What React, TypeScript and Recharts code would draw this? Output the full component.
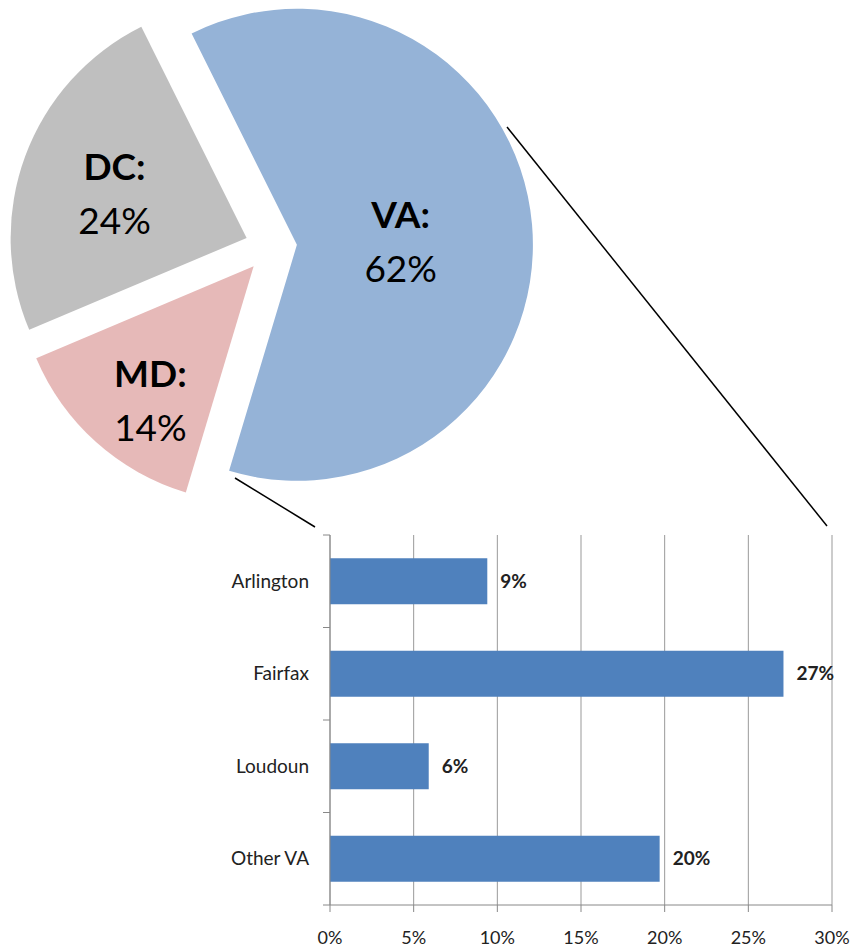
import React from "react";
import { PieChart, Pie, Cell, BarChart, Bar, XAxis, YAxis, CartesianGrid, LabelList } from "recharts";

const stateNames = ["DC", "MD", "VA"];
const stateShares = [24, 14, 62];
const stateColors = ["#BFBFBF", "#E6B9B8", "#95B3D7"];

const counties = ["Arlington", "Fairfax", "Loudoun", "Other VA"];
const countyShares = [9.4, 27.1, 5.9, 19.7];
const xTicks = [0, 5, 10, 15, 20, 25, 30];

const pieData = stateNames.map((name, i) => ({ name, value: stateShares[i] }));
const barData = counties.map((name, i) => ({ name, value: countyShares[i] }));

const FONT = "Lato, 'Open Sans', sans-serif";
const PIE_CX = 271;
const PIE_CY = 247;
const RADIUS = 236;
const EXPLODE = 26;
const START = 116.5;

// where each slice label sits: fraction of radius, angle nudge in degrees
const labelPos: Record<string, [number, number]> = {
  DC: [0.59, 1.8],
  MD: [0.72, 4.5],
  VA: [0.44, -3.4],
};

const total = stateShares.reduce((a, b) => a + b, 0);
const midAngle = (i: number) => {
  const before = stateShares.slice(0, i).reduce((a, b) => a + b, 0);
  return START + ((before + stateShares[i] / 2) / total) * 360;
};

const renderLabel = (slice: number) => (props: any) => {
  if (props.index !== slice) return null;
  const [f, nudge] = labelPos[props.name];
  const a = ((props.midAngle + nudge) * Math.PI) / 180;
  const x = props.cx + props.outerRadius * f * Math.cos(a);
  const y = props.cy - props.outerRadius * f * Math.sin(a);
  return (
    <text textAnchor="middle" fontFamily={FONT} fontSize={37} fill="#000">
      <tspan x={x} y={y - 14} fontWeight="bold">{props.name}:</tspan>
      <tspan x={x} y={y + 40}>{props.value}%</tspan>
    </text>
  );
};

const CountyTick = (props: any) => {
  const { x, y, payload, index } = props;
  const half = payload.offset ?? 46.25;
  return (
    <g>
      <line x1={x} x2={x - 7} y1={y - half} y2={y - half} stroke="#888" />
      {index === counties.length - 1 && (
        <line x1={x} x2={x - 7} y1={y + half} y2={y + half} stroke="#888" />
      )}
      <text x={x - 21} y={y} dy="0.35em" textAnchor="end" fontFamily={FONT} fontSize={19} fill="#222">
        {payload.value}
      </text>
    </g>
  );
};

export default function App() {
  return (
    <div style={{ position: "absolute", left: 0, top: 0, width: 852, height: 949, background: "#fff" }}>
      <div style={{ position: "absolute", left: 0, top: 0 }}>
        <PieChart width={852} height={500} margin={{ top: 0, right: 0, bottom: 0, left: 0 }}>
          {stateNames.map((_, i) => {
            const m = (midAngle(i) * Math.PI) / 180;
            return (
              <Pie
                key={i}
                data={pieData}
                dataKey="value"
                cx={PIE_CX + EXPLODE * Math.cos(m)}
                cy={PIE_CY - EXPLODE * Math.sin(m)}
                outerRadius={RADIUS}
                startAngle={START}
                endAngle={START + 360}
                stroke="none"
                labelLine={false}
                label={renderLabel(i)}
                isAnimationActive={false}
              >
                {pieData.map((d, j) => (
                  <Cell key={d.name} fill={j === i ? stateColors[j] : "transparent"} stroke="none" />
                ))}
              </Pie>
            );
          })}
        </PieChart>
      </div>
      <div style={{ position: "absolute", left: 0, top: 500 }}>
        <BarChart
          width={852}
          height={449}
          data={barData}
          layout="vertical"
          margin={{ top: 35, right: 20, bottom: 0, left: 200 }}
          barCategoryGap="25%"
        >
          <CartesianGrid horizontal={false} stroke="#999" />
          <XAxis
            type="number"
            domain={[0, 30]}
            ticks={xTicks}
            interval={0}
            tickFormatter={(v) => `${v}%`}
            height={44}
            axisLine={{ stroke: "#888" }}
            tickLine={{ stroke: "#888" }}
            tickSize={7}
            tickMargin={19}
            tick={{ fill: "#222", fontSize: 18, fontFamily: FONT }}
          />
          <YAxis
            type="category"
            dataKey="name"
            width={130}
            axisLine={{ stroke: "#888" }}
            tickLine={false}
            tickSize={0}
            tickMargin={0}
            tick={<CountyTick />}
          />
          <Bar dataKey="value" fill="#4F81BD" isAnimationActive={false}>
            <LabelList
              dataKey="value"
              position="right"
              offset={13}
              formatter={(v: any) => `${Math.round(v)}%`}
              style={{ fontWeight: "bold", fontSize: 19, fontFamily: FONT, fill: "#222" }}
            />
          </Bar>
        </BarChart>
      </div>
      <svg width={852} height={949} style={{ position: "absolute", left: 0, top: 0, pointerEvents: "none" }}>
        <line x1={507} y1={127} x2={827} y2={526} stroke="#000" strokeWidth={1.5} />
        <line x1={235} y1={478} x2={315} y2={527} stroke="#000" strokeWidth={1.5} />
      </svg>
    </div>
  );
}
